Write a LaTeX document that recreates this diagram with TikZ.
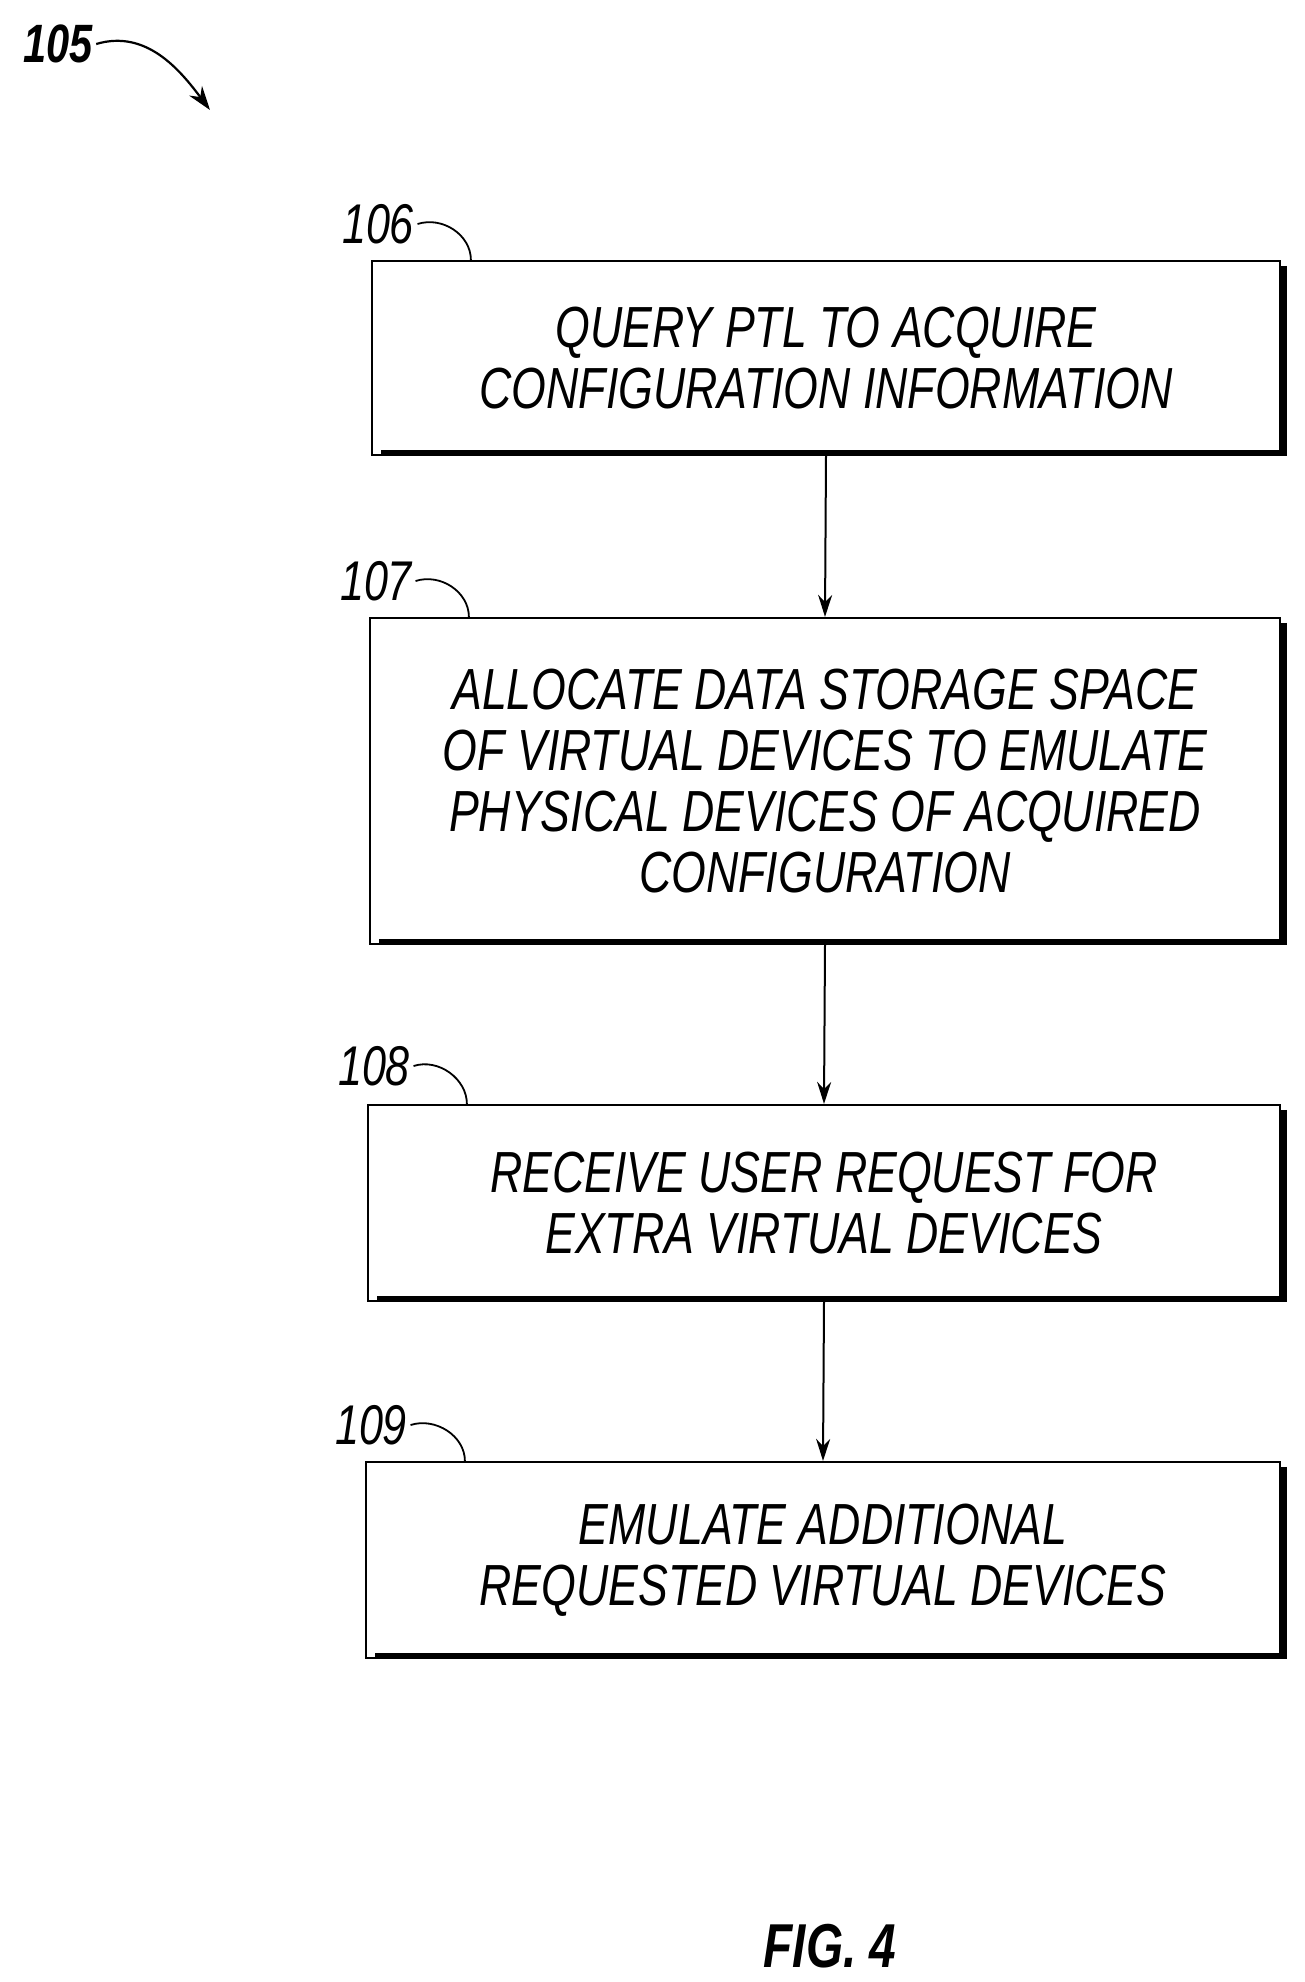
\documentclass[tikz,border=0pt]{standalone}
\usepackage{fontspec}
\setmainfont{Liberation Sans}[FakeStretch=0.77]
\usetikzlibrary{arrows.meta}
\begin{document}
\begin{tikzpicture}[x=1pt,y=-1pt,
 box/.style={draw,line width=2.2pt,align=center,font=\fontsize{58}{61}\selectfont\itshape,inner sep=0pt},
 lab/.style={font=\fontsize{56}{60}\selectfont\itshape},
 sh/.style={line width=6pt},
 arr/.style={line width=2pt,-{Stealth[length=22pt,width=14pt]}}]
\useasboundingbox (0,0) rectangle (1305,1982);
\path[fill=white] (0,0) rectangle (1305,1982);
\node[box,minimum width=908pt,minimum height=194pt] (b1) at (826,358) {QUERY PTL TO ACQUIRE\\CONFIGURATION INFORMATION};
\node[box,minimum width=910pt,minimum height=326pt] (b2) at (825,781) {ALLOCATE DATA STORAGE SPACE\\OF VIRTUAL DEVICES TO EMULATE\\PHYSICAL DEVICES OF ACQUIRED\\CONFIGURATION};
\node[box,minimum width=912pt,minimum height=196pt] (b3) at (824,1203) {RECEIVE USER REQUEST FOR\\EXTRA VIRTUAL DEVICES};
\node[box,minimum width=914pt,minimum height=196pt] (b4) at (823,1560) {EMULATE ADDITIONAL\\REQUESTED VIRTUAL DEVICES};
\foreach \b in {b1,b2,b3,b4}{
 \draw[sh] ([xshift=3pt]\b.north east)++(0,6) |- ([xshift=10pt,yshift=3pt]\b.south west);}
\draw[arr] (b1.south) -- (b2.north);
\draw[arr] (b2.south) -- (b3.north);
\draw[arr] (b3.south) -- (b4.north);
\node[lab] (l106) at (378,224) {106};
\node[lab] (l107) at (376,581) {107};
\node[lab] (l108) at (374,1066) {108};
\node[lab] (l109) at (371,1425) {109};
\foreach \l/\b in {l106/b1,l107/b2,l108/b3,l109/b4}{
 \draw[line width=1.8pt] (\l.east) .. controls +(25,-8) and +(0,-25) .. ([xshift=100pt]\b.north west);}
\node[font=\fontsize{54}{60}\selectfont\itshape\bfseries] (l105) at (58,44) {105};
\coordinate (t105) at (210,110);
\draw[line width=2.2pt,-{Stealth[length=24pt,width=16pt]}] (l105.east) .. controls +(50,-15) and +(-30,-40) .. (t105);
\node[font=\fontsize{62}{60}\selectfont\itshape\bfseries] (fig) at (830,1946) {FIG. 4};
\end{tikzpicture}
\end{document}
